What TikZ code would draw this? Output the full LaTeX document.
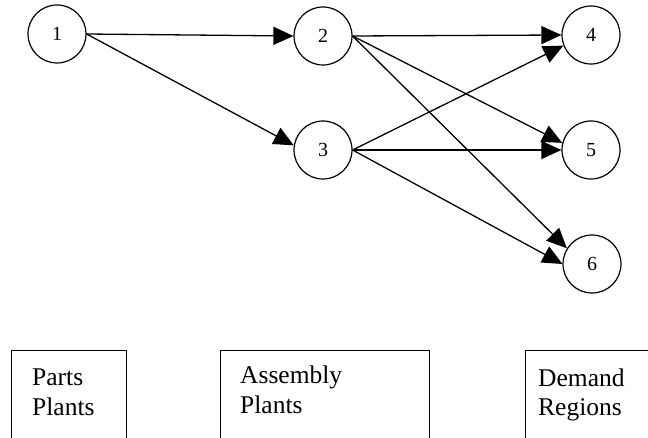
\documentclass[tikz,border=0pt]{standalone}
\usepackage{fontspec}
\setmainfont{Liberation Serif}
\usetikzlibrary{arrows.meta}
\begin{document}
\begin{tikzpicture}[x=1pt,y=-1pt,
  site/.style={draw,circle,line width=1.2pt,minimum size=58pt,inner sep=0pt,font=\fontsize{20}{24}\selectfont},
  flow/.style={line width=1.3pt,-{Triangle[length=20pt,width=18pt]}},
  panel/.style={draw,line width=1.2pt,anchor=north west,inner sep=0pt},
  caption/.style={anchor=base west,inner sep=0pt,font=\fontsize{25.5}{30}\selectfont}]
\clip (0,0) rectangle (648,438);
\node[site] (n1) at (57,34) {1};
\node[site] (n2) at (323,36) {2};
\node[site] (n3) at (323,150) {3};
\node[site] (n4) at (591,35) {4};
\node[site] (n5) at (591,150) {5};
\node[site] (n6) at (592,264) {6};
\draw[flow] (n1.east) -- (n2.west);
\draw[flow] (n1.east) -- (n3.171);
\draw[flow] (n2.east) -- (n4.west);
\draw[flow] (n2.east) -- (n5.166);
\draw[flow] (n2.east) -- (n6.148);
\draw[flow] (n3.east) -- (n4.201);
\draw[flow] (n3.east) -- (n5.west);
\draw[flow] (n3.east) -- (n6.west);
\node[panel,minimum width=115pt,minimum height=100pt] (b1) at (11,350) {};
\node[panel,minimum width=209pt,minimum height=100pt] (b2) at (220,350) {};
\node[panel,minimum width=140pt,minimum height=100pt] (b3) at (525,350) {};
\node[caption] (t1a) at (32,385) {Parts};
\node[caption] (t1b) at (32,415) {Plants};
\node[caption] (t2a) at (240,383) {Assembly};
\node[caption] (t2b) at (240,413) {Plants};
\node[caption] (t3a) at (538,386) {Demand};
\node[caption] (t3b) at (538,415) {Regions};
\end{tikzpicture}
\end{document}
